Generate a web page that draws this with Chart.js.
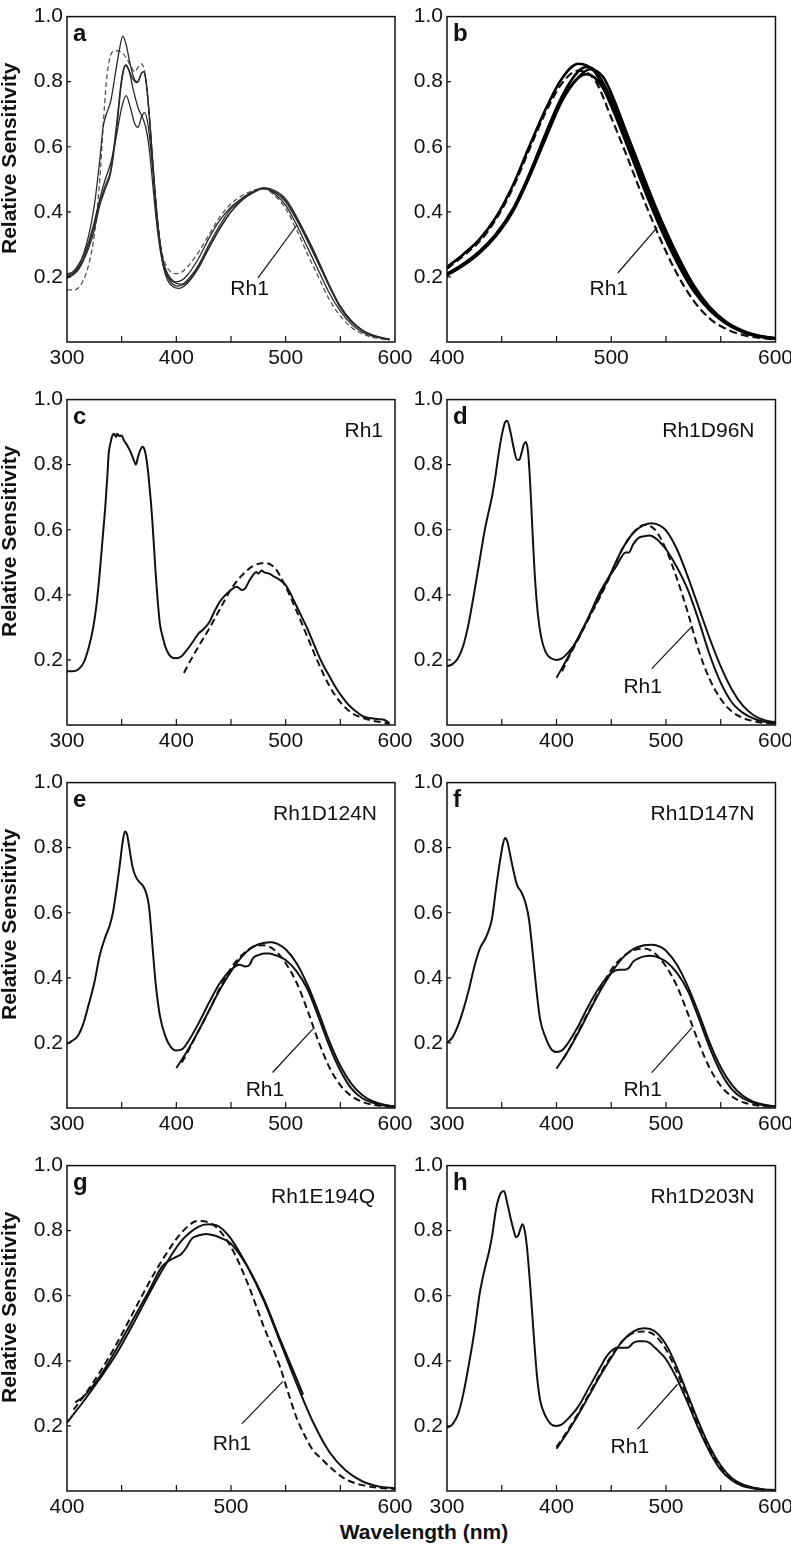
<!DOCTYPE html>
<html>
<head>
<meta charset="utf-8">
<script src="https://cdn.jsdelivr.net/npm/chart.js@4.4.1/dist/chart.umd.min.js"></script>
<style>
html,body{margin:0;padding:0;background:#fff;overflow:hidden;}
#wrap{position:relative;width:791px;height:1549px;overflow:hidden;background:#fff;}
#wrap canvas{position:absolute;}
#xtitle{position:absolute;left:0;width:848px;top:1521px;text-align:center;font:bold 21px/21px 'Liberation Sans',Arial,Helvetica,sans-serif;color:#111;white-space:nowrap;}
</style>
</head>
<body>
<div id="wrap"><div id="xtitle">Wavelength (nm)</div></div>
<script>
// ---------------- tick labels ----------------
const yTickLabels = [0.2, 0.4, 0.6, 0.8, 1.0];
const xLabelsUV = [300, 400, 500, 600];
const xLabelsVis = [400, 500, 600];
const xMarksUV = [350, 400, 450, 500, 550];
const xMarksVis = [433.3, 466.7, 500, 533.3, 566.7];
const yMarks = [0.2, 0.4, 0.6, 0.8];

// ---------------- panel a ----------------
const a_s1 = [[300,.20],[305,.21],[310,.23],[315,.27],[320,.33],[325,.42],[330,.56],[333,.66],[336,.70],[340,.74],[344,.82],[348,.90],[351,.94],[354,.915],[358,.85],[362,.805],[365,.80],[368,.825],[370,.83],[372,.81],[375,.71],[378,.575],[381,.44],[384,.335],[387,.265],[390,.225],[395,.195],[400,.185],[405,.19],[410,.205],[420,.255],[430,.32],[440,.375],[450,.415],[460,.44],[470,.46],[480,.472],[490,.455],[500,.42],[510,.36],[520,.29],[530,.22],[540,.15],[550,.095],[560,.055],[570,.03],[580,.017],[590,.01],[595,.007]];
const a_s2 = [[300,.205],[305,.21],[310,.225],[315,.255],[320,.30],[325,.36],[330,.43],[335,.48],[340,.53],[345,.66],[350,.81],[353,.85],[356,.84],[360,.81],[364,.797],[368,.825],[370,.83],[373,.78],[376,.665],[379,.525],[382,.40],[385,.305],[388,.235],[392,.19],[397,.17],[402,.165],[410,.18],[420,.225],[430,.29],[440,.35],[450,.40],[460,.435],[470,.458],[480,.472],[490,.46],[500,.43],[510,.375],[520,.31],[530,.24],[540,.17],[550,.105],[560,.062],[570,.035],[580,.02],[590,.011],[595,.008]];
const a_s3 = [[300,.195],[305,.205],[310,.22],[315,.25],[320,.29],[325,.345],[330,.42],[335,.47],[340,.52],[345,.64],[350,.80],[354,.852],[357,.83],[361,.77],[365,.72],[369,.69],[372,.66],[375,.60],[378,.50],[381,.395],[384,.31],[387,.25],[391,.205],[396,.18],[401,.172],[410,.185],[420,.23],[430,.29],[440,.35],[450,.40],[460,.44],[470,.46],[480,.474],[490,.465],[500,.44],[510,.385],[520,.32],[530,.25],[540,.175],[550,.11],[560,.066],[570,.037],[580,.021],[590,.012],[595,.009]];
const a_s4 = [[300,.21],[305,.215],[310,.235],[315,.265],[320,.31],[325,.37],[330,.44],[335,.50],[340,.55],[345,.63],[350,.72],[354,.757],[358,.72],[362,.67],[365,.66],[368,.69],[371,.705],[374,.67],[377,.58],[380,.47],[383,.36],[386,.28],[390,.22],[395,.19],[400,.18],[405,.178],[410,.19],[420,.235],[430,.30],[440,.36],[450,.41],[460,.442],[470,.462],[480,.472],[490,.46],[500,.435],[510,.38],[520,.315],[530,.245],[540,.17],[550,.108],[560,.064],[570,.036],[580,.02],[590,.011],[595,.008]];
const a_rh1 = [[300,.16],[305,.16],[310,.165],[315,.19],[320,.24],[325,.33],[330,.50],[333,.66],[336,.80],[339,.87],[342,.893],[346,.895],[350,.89],[354,.875],[358,.85],[362,.83],[365,.845],[368,.855],[371,.83],[374,.74],[377,.61],[380,.48],[383,.37],[386,.29],[390,.24],[395,.215],[400,.21],[405,.215],[410,.23],[420,.275],[430,.33],[440,.385],[450,.425],[460,.45],[470,.465],[475,.47],[480,.47],[490,.45],[500,.41],[510,.345],[520,.27],[530,.20],[540,.13],[550,.08],[560,.045],[570,.025],[580,.014],[590,.008],[595,.006]];

// ---------------- panel b ----------------
const b_s1 = [[400,.23],[410,.27],[420,.317],[430,.385],[440,.48],[450,.60],[460,.715],[470,.81],[480,.855],[490,.83],[500,.725],[510,.60],[520,.47],[530,.35],[540,.245],[550,.158],[560,.097],[570,.056],[580,.031],[590,.017],[600,.01]];
const b_s2 = [[400,.21],[410,.24],[420,.28],[430,.333],[440,.408],[450,.515],[460,.64],[470,.755],[480,.832],[485,.845],[490,.835],[500,.748],[510,.62],[520,.49],[530,.37],[540,.26],[550,.168],[560,.102],[570,.059],[580,.033],[590,.018],[600,.011]];
const b_s3 = [[400,.208],[410,.238],[420,.277],[430,.33],[440,.404],[450,.51],[460,.63],[470,.745],[480,.812],[485,.823],[490,.812],[500,.735],[510,.61],[520,.48],[530,.36],[540,.252],[550,.163],[560,.099],[570,.057],[580,.032],[590,.017],[600,.01]];
const b_s4 = [[400,.205],[410,.235],[420,.274],[430,.327],[440,.40],[450,.505],[460,.625],[470,.74],[480,.813],[487,.838],[495,.815],[500,.765],[510,.635],[520,.505],[530,.38],[540,.27],[550,.176],[560,.107],[570,.062],[580,.035],[590,.019],[600,.012]];
const b_rh1 = [[400,.225],[410,.265],[420,.31],[430,.378],[440,.472],[450,.59],[460,.705],[470,.795],[480,.834],[490,.805],[500,.69],[510,.565],[520,.435],[530,.315],[540,.21],[550,.128],[560,.072],[570,.04],[580,.022],[590,.013],[600,.008]];

// ---------------- panel c (Rh1) ----------------
const c_data = [[300,.165],[305,.165],[310,.17],[315,.19],[320,.24],[324,.30],[327,.37],[330,.47],[333,.59],[335,.67],[337,.77],[338,.83],[340,.87],[341,.885],[343,.895],[345,.885],[346,.895],[348,.888],[350,.89],[352,.875],[355,.86],[358,.84],[361,.815],[363,.80],[365,.825],[367,.845],[369,.855],[371,.845],[373,.81],[375,.75],[378,.63],[381,.47],[383,.38],[385,.31],[388,.265],[390,.24],[395,.21],[400,.205],[405,.212],[410,.232],[415,.255],[420,.28],[425,.295],[430,.315],[435,.35],[440,.38],[445,.40],[450,.415],[455,.425],[460,.415],[463,.42],[467,.445],[470,.46],[473,.47],[475,.465],[478,.475],[480,.47],[485,.465],[490,.455],[495,.445],[500,.43],[505,.40],[510,.365],[515,.33],[520,.295],[525,.255],[530,.215],[535,.18],[540,.15],[545,.12],[550,.094],[555,.072],[560,.054],[565,.04],[570,.028],[575,.022],[580,.02],[585,.018],[590,.016],[595,.006]];
const c_rh1 = [[407,.16],[410,.18],[420,.24],[430,.296],[440,.357],[450,.417],[460,.46],[470,.488],[480,.498],[490,.483],[500,.425],[510,.35],[520,.27],[530,.19],[540,.12],[550,.07],[560,.038],[570,.022],[580,.013],[590,.007],[595,.004]];

// ---------------- panel d (Rh1D96N) ----------------
const d_data = [[300,.18],[305,.187],[310,.205],[315,.245],[320,.316],[325,.41],[330,.51],[334,.59],[338,.655],[341,.70],[344,.76],[347,.83],[350,.89],[353,.93],[355,.935],[358,.90],[361,.85],[364,.815],[366,.815],[368,.835],[370,.86],[372,.87],[374,.84],[376,.74],[378,.60],[380,.47],[383,.34],[386,.27],[390,.225],[395,.205],[400,.20],[405,.205],[410,.22],[420,.266],[430,.337],[440,.41],[450,.465],[455,.49],[460,.52],[463,.53],[466,.53],[470,.555],[475,.575],[480,.58],[485,.582],[490,.575],[495,.56],[500,.54],[510,.485],[520,.415],[530,.32],[540,.215],[550,.13],[560,.07],[570,.038],[580,.02],[590,.01],[600,.005]];
const d_fit = [[400,.145],[410,.205],[420,.27],[430,.335],[440,.40],[450,.47],[460,.54],[470,.59],[480,.615],[487,.62],[495,.612],[500,.598],[510,.54],[520,.455],[530,.36],[540,.265],[550,.18],[560,.11],[570,.06],[580,.03],[590,.015],[600,.008]];
const d_rh1 = [[405,.165],[410,.20],[420,.265],[430,.33],[440,.395],[450,.465],[460,.54],[470,.59],[480,.615],[490,.60],[500,.54],[510,.45],[520,.345],[530,.228],[540,.14],[550,.08],[560,.042],[570,.022],[580,.012],[590,.006],[600,.004]];

// ---------------- panel e (Rh1D124N) ----------------
const e_data = [[300,.197],[305,.207],[310,.222],[315,.26],[320,.32],[325,.385],[330,.47],[335,.525],[339,.56],[342,.60],[345,.665],[348,.74],[351,.82],[353,.85],[355,.84],[357,.80],[360,.74],[363,.71],[366,.695],[369,.685],[372,.665],[375,.62],[378,.505],[381,.385],[385,.283],[390,.22],[395,.187],[400,.177],[405,.18],[410,.20],[420,.258],[430,.324],[440,.385],[450,.425],[458,.44],[463,.435],[467,.44],[470,.46],[475,.47],[480,.475],[485,.475],[490,.47],[500,.455],[510,.42],[520,.365],[530,.28],[540,.19],[550,.115],[560,.06],[570,.03],[580,.016],[590,.008],[600,.004]];
const e_fit = [[400,.123],[410,.175],[420,.235],[430,.30],[440,.365],[450,.42],[460,.465],[470,.495],[480,.507],[487,.509],[495,.50],[500,.488],[510,.445],[520,.378],[530,.295],[540,.205],[550,.13],[560,.075],[570,.04],[580,.02],[590,.01],[600,.005]];
const e_rh1 = [[405,.14],[410,.17],[420,.235],[430,.30],[440,.37],[450,.43],[460,.47],[470,.495],[480,.50],[490,.485],[500,.445],[510,.385],[520,.30],[530,.205],[540,.125],[550,.07],[560,.037],[570,.019],[580,.01],[590,.005],[600,.003]];

// ---------------- panel f (Rh1D147N) ----------------
const f_data = [[300,.20],[305,.217],[310,.253],[315,.303],[320,.364],[325,.435],[330,.49],[335,.52],[338,.545],[341,.58],[345,.68],[348,.75],[351,.81],[353,.83],[355,.82],[357,.79],[360,.74],[364,.685],[368,.663],[372,.627],[375,.577],[378,.486],[381,.385],[385,.273],[390,.217],[395,.182],[400,.172],[405,.177],[410,.197],[420,.253],[430,.319],[440,.375],[450,.415],[457,.425],[462,.425],[466,.43],[470,.45],[475,.46],[480,.466],[485,.468],[490,.466],[500,.45],[510,.415],[520,.36],[530,.275],[540,.185],[550,.11],[560,.058],[570,.03],[580,.016],[590,.008],[600,.004]];
const f_fit = [[400,.121],[410,.172],[420,.232],[430,.297],[440,.36],[450,.415],[460,.46],[470,.488],[480,.50],[487,.502],[495,.495],[500,.483],[510,.44],[520,.373],[530,.29],[540,.20],[550,.125],[560,.072],[570,.038],[580,.019],[590,.01],[600,.005]];
const f_rh1 = [[406,.15],[410,.172],[420,.236],[430,.30],[440,.365],[450,.425],[460,.463],[470,.485],[480,.49],[490,.475],[500,.435],[510,.375],[520,.29],[530,.20],[540,.122],[550,.068],[560,.036],[570,.018],[580,.01],[590,.005],[600,.003]];

// ---------------- panel g (Rh1E194Q) ----------------
const g_data = [[405,.272],[410,.29],[420,.352],[430,.435],[440,.525],[450,.615],[458,.69],[463,.71],[467,.72],[470,.73],[473,.75],[476,.775],[480,.785],[485,.79],[490,.785],[495,.775],[500,.76],[510,.69],[520,.59],[530,.465],[540,.345],[544,.296]];
const g_fit = [[400,.21],[410,.275],[420,.345],[430,.42],[440,.51],[450,.605],[460,.695],[470,.77],[480,.812],[486,.82],[492,.815],[500,.775],[510,.69],[520,.585],[530,.458],[540,.33],[550,.212],[560,.12],[570,.063],[580,.03],[590,.014],[600,.008]];
const g_rh1 = [[404,.25],[410,.29],[420,.365],[430,.45],[440,.545],[450,.64],[460,.725],[470,.795],[480,.83],[490,.815],[500,.75],[510,.64],[520,.505],[530,.38],[535,.30],[540,.225],[545,.17],[550,.125],[555,.10],[560,.075],[570,.036],[580,.018],[590,.01],[600,.006]];

// ---------------- panel h (Rh1D203N) ----------------
const h_data = [[300,.195],[305,.205],[310,.235],[315,.30],[320,.39],[325,.49],[330,.61],[335,.69],[338,.73],[341,.78],[345,.87],[349,.915],[352,.922],[355,.885],[358,.84],[361,.80],[363,.78],[365,.785],[367,.805],[369,.82],[371,.80],[373,.75],[376,.63],[379,.49],[382,.36],[385,.28],[390,.23],[395,.205],[400,.20],[405,.205],[410,.22],[420,.26],[430,.32],[440,.38],[445,.41],[450,.43],[455,.44],[460,.44],[465,.44],[470,.455],[475,.46],[480,.46],[485,.455],[490,.44],[500,.405],[510,.345],[520,.27],[530,.19],[540,.12],[550,.065],[560,.033],[570,.015],[580,.008],[590,.004]];
const h_fit = [[400,.13],[410,.18],[420,.235],[430,.295],[440,.355],[450,.41],[460,.46],[470,.49],[480,.50],[490,.49],[500,.45],[510,.38],[520,.295],[530,.21],[540,.135],[550,.078],[560,.04],[570,.02],[580,.01],[590,.005],[600,.003]];
const h_rh1 = [[400,.135],[410,.185],[420,.24],[430,.30],[440,.36],[450,.415],[460,.46],[470,.485],[480,.49],[490,.478],[500,.435],[510,.365],[520,.283],[530,.198],[540,.125],[550,.07],[560,.036],[570,.018],[580,.009],[590,.004]];

// ---------------- layout / style config ----------------
const FONT = "'Liberation Sans', Arial, Helvetica, sans-serif";
const INK = '#111';
const ROW_TOP = [13, 396, 779, 1162];
const COLS = [
  {left: 0, width: 420, axisW: 67, padR: 25},
  {left: 397, width: 400, axisW: 50, padR: 21}
];
const STYLES = {
  thin:  {solidW: 1.3, solidC: '#2a2a2a', dashW: 1.3, dashC: '#555', dash: [5, 3]},
  thick: {solidW: 2.6, solidC: '#000', dashW: 2.2, dashC: '#111', dash: [8, 4]},
  std:   {solidW: 2.0, solidC: '#111', dashW: 2.0, dashC: '#111', dash: [7, 4]}
};

const panels = [
  {letter:'a', row:0, col:0, uv:true,  kind:'thin',  name:'', solids:[a_s1,a_s2,a_s3,a_s4], dashed:[a_rh1], ptr:{t:[467,0.167], l:[474.7,0.197,510,0.358]}},
  {letter:'b', row:0, col:1, uv:false, kind:'thick', name:'', solids:[b_s1,b_s2,b_s3,b_s4], dashed:[b_rh1], ptr:{t:[498.5,0.167], l:[504,0.212,528,0.352]}},
  {letter:'c', row:1, col:0, uv:true,  kind:'std', name:'Rh1', inset:12, solids:[c_data], dashed:[c_rh1], ptr:null},
  {letter:'d', row:1, col:1, uv:true,  kind:'std', name:'Rh1D96N', inset:21, solids:[d_data,d_fit], dashed:[d_rh1], ptr:{t:[478.7,0.122], l:[487,0.173,524,0.304]}},
  {letter:'e', row:2, col:0, uv:true,  kind:'std', name:'Rh1D124N', inset:18, solids:[e_data,e_fit], dashed:[e_rh1], ptr:{t:[481,0.061], l:[488,0.109,525,0.243]}},
  {letter:'f', row:2, col:1, uv:true,  kind:'std', name:'Rh1D147N', inset:21, solids:[f_data,f_fit], dashed:[f_rh1], ptr:{t:[478.7,0.061], l:[487,0.109,523.6,0.246]}},
  {letter:'g', row:3, col:0, uv:false, kind:'std', name:'Rh1E194Q', inset:20, solids:[g_data,g_fit], dashed:[g_rh1], ptr:{t:[500.6,0.149], l:[506.7,0.207,531.7,0.337]}},
  {letter:'h', row:3, col:1, uv:true,  kind:'std', name:'Rh1D203N', inset:21, solids:[h_data,h_fit], dashed:[h_rh1], ptr:{t:[467,0.14], l:[474,0.19,510.6,0.328]}}
];

function decor(p) {
  return {
    id: 'decor_' + p.letter,
    afterDraw(chart) {
      const ctx = chart.ctx, ca = chart.chartArea;
      const xs = chart.scales.x, ys = chart.scales.y;
      ctx.save();
      ctx.strokeStyle = INK;
      ctx.lineWidth = 1.5;
      ctx.strokeRect(ca.left, ca.top, ca.right - ca.left, ca.bottom - ca.top);
      ctx.lineWidth = 1.2;
      ctx.beginPath();
      for (const v of (p.uv ? xMarksUV : xMarksVis)) {
        const px = xs.getPixelForValue(v);
        ctx.moveTo(px, ca.bottom); ctx.lineTo(px, ca.bottom - 6);
      }
      for (const v of yMarks) {
        const py = ys.getPixelForValue(v);
        ctx.moveTo(ca.left, py); ctx.lineTo(ca.left + 4, py);
      }
      ctx.stroke();
      ctx.fillStyle = INK;
      ctx.textBaseline = 'alphabetic';
      ctx.font = 'bold 24px ' + FONT;
      ctx.textAlign = 'left';
      ctx.fillText(p.letter, ca.left + 6, ca.top + 24);
      if (p.name) {
        ctx.font = '21px ' + FONT;
        ctx.textAlign = 'right';
        ctx.fillText(p.name, ca.right - p.inset, ca.top + 37);
      }
      if (p.ptr) {
        ctx.font = '21px ' + FONT;
        ctx.textAlign = 'center';
        ctx.fillText('Rh1', xs.getPixelForValue(p.ptr.t[0]), ys.getPixelForValue(p.ptr.t[1]) + 7.5);
        ctx.lineWidth = 1.2;
        ctx.beginPath();
        ctx.moveTo(xs.getPixelForValue(p.ptr.l[0]), ys.getPixelForValue(p.ptr.l[1]));
        ctx.lineTo(xs.getPixelForValue(p.ptr.l[2]), ys.getPixelForValue(p.ptr.l[3]));
        ctx.stroke();
      }
      if (p.col === 0) {
        ctx.save();
        ctx.font = 'bold 21px ' + FONT;
        ctx.textAlign = 'center';
        ctx.translate(16, (ca.top + ca.bottom) / 2 - 21);
        ctx.rotate(-Math.PI / 2);
        ctx.fillText('Relative Sensitivity', 0, 0);
        ctx.restore();
      }
      ctx.restore();
    }
  };
}

const wrap = document.getElementById('wrap');
panels.forEach(p => {
  const col = COLS[p.col];
  const st = STYLES[p.kind];
  const cv = document.createElement('canvas');
  cv.width = col.width; cv.height = 383;
  cv.style.left = col.left + 'px';
  cv.style.top = (ROW_TOP[p.row] - 13) + 'px';
  cv.style.width = col.width + 'px'; cv.style.height = '383px';
  wrap.appendChild(cv);
  const toXY = arr => arr.map(([x, y]) => ({x, y}));
  const datasets = [];
  p.solids.forEach(s => datasets.push({data: toXY(s), borderColor: st.solidC, borderWidth: st.solidW, pointRadius: 0, fill: false, cubicInterpolationMode: 'monotone'}));
  p.dashed.forEach(s => datasets.push({data: toXY(s), borderColor: st.dashC, borderWidth: st.dashW, borderDash: st.dash, pointRadius: 0, fill: false, cubicInterpolationMode: 'monotone'}));
  const xLabels = p.uv ? xLabelsUV : xLabelsVis;
  new Chart(cv, {
    type: 'line',
    data: {datasets},
    options: {
      responsive: false, animation: false, events: [],
      devicePixelRatio: 1,
      layout: {padding: {top: 13, right: col.padR, left: 0, bottom: 0}},
      plugins: {legend: {display: false}, tooltip: {enabled: false}},
      scales: {
        x: {
          type: 'linear', min: p.uv ? 300 : 400, max: 600,
          grid: {display: false, drawTicks: false}, border: {display: false},
          afterBuildTicks: s => { s.ticks = xLabels.map(v => ({value: v})); },
          afterFit: s => { s.height = 41; },
          ticks: {autoSkip: false, maxRotation: 0, padding: 4, color: INK, font: {family: FONT, size: 21}, callback: v => String(v)}
        },
        y: {
          type: 'linear', min: 0, max: 1,
          grid: {display: false, drawTicks: false}, border: {display: false},
          afterBuildTicks: s => { s.ticks = yTickLabels.map(v => ({value: v})); },
          afterFit: s => { s.width = col.axisW; },
          ticks: {autoSkip: false, padding: 4, color: INK, font: {family: FONT, size: 21}, callback: v => v.toFixed(1)}
        }
      }
    },
    plugins: [decor(p)]
  });
});
</script>
</body>
</html>
